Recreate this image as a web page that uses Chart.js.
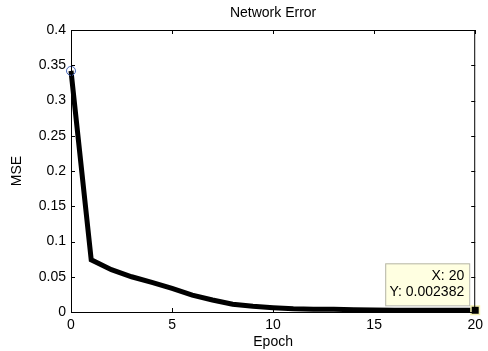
<!DOCTYPE html>
<html>
<head>
<meta charset="utf-8">
<script src="https://cdn.jsdelivr.net/npm/chart.js@4.4.1/dist/chart.umd.min.js"></script>
<style>
  html, body { margin: 0; padding: 0; background: #fff; }
  #wrap { width: 488px; height: 351px; }
</style>
</head>
<body>
<div id="wrap"><canvas id="errChart" width="488" height="351"></canvas></div>
<script>
// Training curve
const epochs = [0, 1, 2, 3, 4, 5, 6, 7, 8, 9, 10, 11, 12, 13, 14, 15, 16, 17, 18, 19, 20];
const mse = [0.342, 0.074, 0.06, 0.05, 0.042, 0.0335, 0.024, 0.017, 0.011, 0.008, 0.006,
  0.0045, 0.004, 0.0038, 0.0032, 0.0028, 0.0026, 0.0025, 0.0024, 0.0024, 0.002382];
const xTicks = [0, 5, 10, 15, 20];
const yTicks = [0, 0.05, 0.1, 0.15, 0.2, 0.25, 0.3, 0.35, 0.4];

const FONT = 'Arial, "Liberation Sans", sans-serif';

// Box around the plot with inward ticks on all four sides, plus the data tip
const matlabAxes = {
  id: 'matlabAxes',
  afterDraw(chart) {
    const { ctx, chartArea: a, scales: { x, y } } = chart;
    ctx.save();
    ctx.strokeStyle = '#000';
    ctx.lineWidth = 1;
    ctx.strokeRect(a.left + 0.5, a.top + 0.5, a.right - a.left - 1, a.bottom - a.top);
    ctx.beginPath();
    xTicks.forEach(v => {
      const px = Math.round(x.getPixelForValue(v)) + 0.5;
      ctx.moveTo(px, a.bottom); ctx.lineTo(px, a.bottom - 4);
      ctx.moveTo(px, a.top); ctx.lineTo(px, a.top + 4);
    });
    yTicks.forEach(v => {
      const py = Math.round(y.getPixelForValue(v)) + 0.5;
      ctx.moveTo(a.left, py); ctx.lineTo(a.left + 4, py);
      ctx.moveTo(a.right, py); ctx.lineTo(a.right - 4, py);
    });
    ctx.stroke();

    // data tip on the last point
    const i = epochs.length - 1;
    const px = x.getPixelForValue(epochs[i]);
    const py = y.getPixelForValue(mse[i]);
    const w = 84, h = 42;
    const bx = px - 6 - w, by = py - 5 - h;
    ctx.fillStyle = '#ffffe1';
    ctx.strokeStyle = '#b4b4a8';
    ctx.fillRect(bx, by, w, h);
    ctx.strokeRect(bx + 0.5, by + 0.5, w, h);
    ctx.fillStyle = '#000';
    ctx.font = '14px ' + FONT;
    ctx.textAlign = 'right';
    ctx.textBaseline = 'middle';
    ctx.fillText('X: ' + epochs[i], bx + w - 5, by + 13);
    ctx.fillText('Y: ' + mse[i], bx + w - 5, by + 29);
    ctx.restore();
  }
};

new Chart(document.getElementById('errChart').getContext('2d'), {
  type: 'line',
  data: {
    labels: epochs,
    datasets: [{
      data: mse,
      borderColor: '#000',
      borderWidth: 5,
      tension: 0,
      clip: false,
      pointStyle: epochs.map((e, k) => k === 0 ? 'circle' : (k === epochs.length - 1 ? 'rect' : false)),
      pointRadius: epochs.map((e, k) => k === 0 ? 4.5 : (k === epochs.length - 1 ? 6 : 0)),
      pointBackgroundColor: epochs.map((e, k) => k === 0 ? 'rgba(0,0,0,0)' : '#000'),
      pointBorderColor: epochs.map((e, k) => k === 0 ? '#4262b8' : '#f4f0b0'),
      pointBorderWidth: epochs.map((e, k) => k === 0 ? 1 : 1.5),
    }],
  },
  options: {
    responsive: false,
    animation: false,
    layout: { padding: { top: 0, right: 7, left: 0, bottom: 0 } },
    plugins: {
      legend: { display: false },
      tooltip: { enabled: false },
      title: {
        display: true,
        fullSize: false,
        text: 'Network Error',
        color: '#000',
        font: { family: FONT, size: 14, weight: 'normal' },
        padding: { top: 5, bottom: 8.2 },
      },
    },
    scales: {
      x: {
        type: 'linear',
        min: 0,
        max: 20,
        afterFit: s => { s.height = 39; },
        afterBuildTicks: s => { s.ticks = xTicks.map(v => ({ value: v })); },
        grid: { display: false, drawTicks: false },
        border: { display: false },
        ticks: { color: '#000', padding: 5, maxRotation: 0, font: { family: FONT, size: 14 } },
        title: {
          display: true, text: 'Epoch', color: '#000',
          font: { family: FONT, size: 14 }, padding: { top: 0, bottom: 0 },
        },
      },
      y: {
        min: 0,
        max: 0.4,
        afterFit: s => { s.width = 71; },
        afterBuildTicks: s => { s.ticks = yTicks.map(v => ({ value: v })); },
        grid: { display: false, drawTicks: false },
        border: { display: false },
        ticks: {
          color: '#000', padding: 5, font: { family: FONT, size: 14 },
          callback: v => String(+v.toFixed(2)),
        },
        title: {
          display: true, text: 'MSE', color: '#000',
          font: { family: FONT, size: 14 }, padding: { top: 9, bottom: 0 },
        },
      },
    },
  },
  plugins: [matlabAxes],
});
</script>
</body>
</html>
